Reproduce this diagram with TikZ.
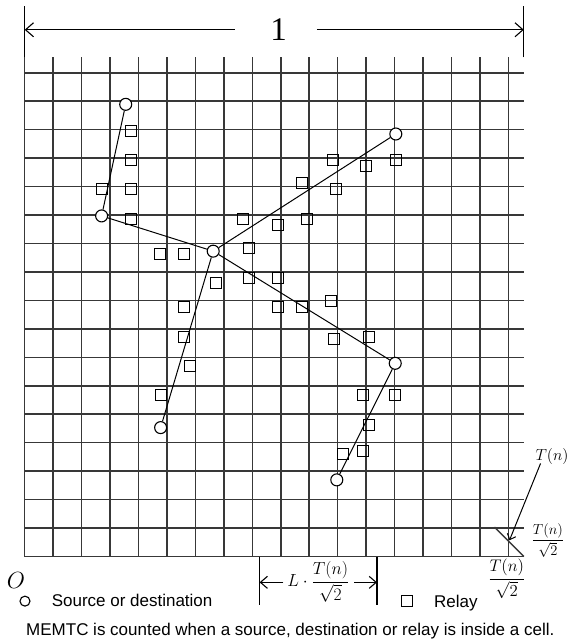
\RequirePackage{fix-cm}
\documentclass[tikz,border=0pt]{standalone}
\usepackage{amsmath}
\usepackage{fontspec}
\newfontfamily\arial{Liberation Sans}
\newfontfamily\tms{Liberation Serif}
\usetikzlibrary{arrows.meta}
\begin{document}
\begin{tikzpicture}[x=29.36pt,y=29.36pt,
  gridline/.style={line width=1.5pt, black!78},
  src/.style={circle, draw, line width=1.1pt, minimum size=12pt, inner sep=0pt, fill=white},
  relay/.style={rectangle, draw, line width=1.1pt, minimum size=11pt, inner sep=0pt},
  link/.style={line width=1pt},
  dimline/.style={line width=1.1pt},
  bigbarb/.style={-{Straight Barb[length=8pt,width=14pt,line width=1.1pt]}},
  smallbarb/.style={-{Straight Barb[length=7pt,width=12pt,line width=1.1pt]}},
  tinybarb/.style={-{Straight Barb[length=5pt,width=9pt,line width=1pt]}},
  lbl/.style={inner sep=0pt},
  legtext/.style={inner sep=0pt, anchor=base west, font=\arial\fontsize{17}{20}\selectfont},
]
\useasboundingbox (-0.841,-2.980) rectangle (18.539,18.954);
% grid
\draw[gridline] (0,0) grid (17,17);
\draw[gridline] (16,1) -- (17,0);

% top dimension
\coordinate (tl0) at (0,17);
\coordinate (tl1) at (0,18.76);
\coordinate (tr0) at (17,17);
\coordinate (tr1) at (17,18.76);
\coordinate (tla) at (0,17.94);
\coordinate (tra) at (17,17.94);
\coordinate (tgl) at (7.16,17.94);
\coordinate (tgr) at (9.95,17.94);
\draw[dimline] (tl0) -- (tl1);
\draw[dimline] (tr0) -- (tr1);
\draw[dimline,bigbarb] (tgl) -- (tla);
\draw[dimline,bigbarb] (tgr) -- (tra);
\node[lbl,font=\tms\fontsize{33}{33}\selectfont] (one) at (8.65,17.94) {1};

% relays
\foreach \p [count=\i] in {{3.62,14.49},{3.62,13.50},{3.62,12.51},{2.62,12.51},{3.62,11.51},
  {4.62,10.30},{5.42,10.30},{10.51,13.50},{11.62,13.30},{12.64,13.50},
  {9.43,12.71},{10.61,12.51},{7.43,11.51},{8.62,11.30},{9.63,11.51},
  {7.63,10.51},{6.53,9.31},{7.63,9.50},{8.62,9.50},{8.62,8.49},
  {9.43,8.49},{10.43,8.70},{5.44,8.49},{5.44,7.49},{10.53,7.40},
  {11.73,7.49},{5.63,6.49},{4.63,5.49},{11.53,5.49},{12.62,5.49},
  {11.73,4.49},{10.83,3.49},{11.53,3.58}}
  \node[relay] (r\i) at (\p) {};

% sources / destinations
\node[src] (A) at (3.44,15.40) {};
\node[src] (B) at (2.62,11.60) {};
\node[src] (C) at (6.42,10.40) {};
\node[src] (D) at (12.64,14.39) {};
\node[src] (E) at (12.62,6.58) {};
\node[src] (F) at (4.63,4.39) {};
\node[src] (G) at (10.63,2.61) {};
\draw[link] (A) -- (B);
\draw[link] (B) -- (C);
\draw[link] (C) -- (D);
\draw[link] (C) -- (E);
\draw[link] (C) -- (F);
\draw[link] (E) -- (G);

% T(n) labels at the corner cell
\node[lbl,font=\fontsize{16}{16}\selectfont] (tn) at (17.96,3.42) {$T(n)$};
\coordinate (tnA) at (17.57,3.17);
\coordinate (dmid) at (16.51,0.55);
\draw[link,tinybarb] (tnA) -- (dmid);
\node[lbl,font=\fontsize{14.5}{14.5}\selectfont] (tnr) at (17.82,0.54) {$\dfrac{T(n)}{\sqrt{2}}$};
\node[lbl,font=\fontsize{16.8}{16.8}\selectfont] (tnb) at (16.42,-0.77) {$\dfrac{T(n)}{\sqrt{2}}$};

% bottom dimension L T(n)/sqrt2
\coordinate (bl0) at (8,0);
\coordinate (bl1) at (8,-1.65);
\coordinate (br0) at (12,0);
\coordinate (br1) at (12,-1.65);
\coordinate (bla) at (8,-0.88);
\coordinate (bra) at (12,-0.88);
\coordinate (bgl) at (8.81,-0.88);
\coordinate (bgr) at (11.22,-0.88);
\draw[dimline] (bl0) -- (bl1);
\draw[dimline] (br0) -- (br1);
\draw[dimline,smallbarb] (bgl) -- (bla);
\draw[dimline,smallbarb] (bgr) -- (bra);
\node[lbl,font=\fontsize{17.5}{17.5}\selectfont] (Lt) at (10.0,-0.87) {$L\cdot\dfrac{T(n)}{\sqrt{2}}$};

% origin
\node[lbl,font=\fontsize{23.4}{23.4}\selectfont] (O) at (-0.296,-0.83) {$O$};

% legend
\node[src,minimum size=10pt] (legc) at (0.01,-1.52) {};
\node[legtext] (legct) at (0.915,-1.695) {Source or destination};
\node[relay] (legr) at (13.01,-1.52) {};
\node[legtext] (legrt) at (13.94,-1.74) {Relay};
\node[legtext] (note) at (0.045,-2.70) {MEMTC is counted when a source, destination or relay is inside a cell.};
\end{tikzpicture}
\end{document}
